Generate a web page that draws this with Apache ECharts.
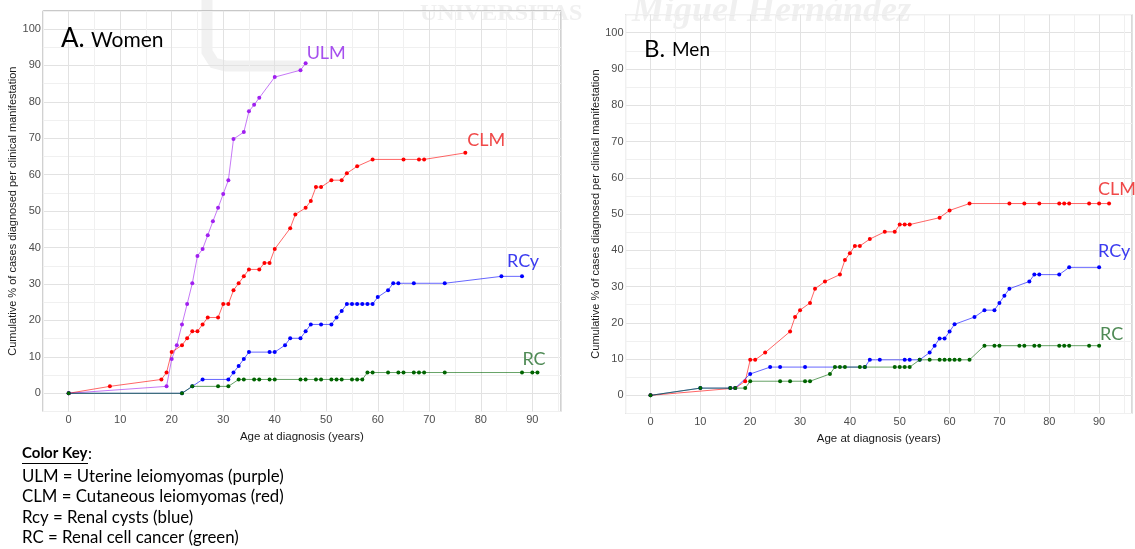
<!DOCTYPE html>
<html>
<head>
<meta charset="utf-8">
<script src="https://cdn.jsdelivr.net/npm/echarts@6/dist/echarts.min.js"></script>
<style>
html, body { margin: 0; padding: 0; background: #fff; }
#main { width: 1135px; height: 549px; }
</style>
</head>
<body>
<div id="main"></div>
<script>
// A. Women: [age, cumulative %]
const ulmWomen = [[0,0],[19,1.9],[20,9.4],[21,13.2],[22,18.9],[23,24.5],[24,30.2],[25,37.7],[26,39.6],[27,43.4],[28,47.2],[29,50.9],[30,54.7],[31,58.5],[32,69.8],[34,71.7],[35,77.4],[36,79.2],[37,81.1],[40,86.8],[45,88.7],[46,90.6]]
const clmWomen = [[0,0],[8,1.9],[18,3.8],[19,5.7],[20,11.3],[22,13.2],[23,15.1],[24,17],[25,17],[26,18.9],[27,20.8],[29,20.8],[30,24.5],[31,24.5],[32,28.3],[33,30.2],[34,32.1],[35,34],[37,34],[38,35.8],[39,35.8],[40,39.6],[43,45.3],[44,49.1],[46,50.9],[47,52.8],[48,56.6],[49,56.6],[51,58.5],[53,58.5],[54,60.4],[56,62.3],[59,64.2],[65,64.2],[68,64.2],[69,64.2],[77,66]]
const rcyWomen = [[0,0],[22,0],[24,1.9],[26,3.8],[31,3.8],[32,5.7],[33,7.5],[34,9.4],[35,11.3],[39,11.3],[40,11.3],[42,13.2],[43,15.1],[45,15.1],[46,17],[47,18.9],[49,18.9],[51,18.9],[52,20.8],[53,22.6],[54,24.5],[55,24.5],[56,24.5],[57,24.5],[58,24.5],[59,24.5],[60,26.4],[62,28.3],[63,30.2],[64,30.2],[67,30.2],[73,30.2],[84,32.1],[88,32.1]]
const rcWomen = [[0,0],[22,0],[24,1.9],[29,1.9],[31,1.9],[33,3.8],[34,3.8],[36,3.8],[37,3.8],[39,3.8],[40,3.8],[45,3.8],[46,3.8],[48,3.8],[49,3.8],[51,3.8],[52,3.8],[53,3.8],[55,3.8],[56,3.8],[57,3.8],[58,5.7],[59,5.7],[62,5.7],[64,5.7],[65,5.7],[67,5.7],[68,5.7],[69,5.7],[73,5.7],[88,5.7],[90,5.7],[91,5.7]]

// B. Men
const clmMen = [[0,0],[17,2],[19,3.9],[20,9.8],[21,9.8],[23,11.8],[28,17.6],[29,21.6],[30,23.5],[32,25.5],[33,29.4],[35,31.4],[38,33.3],[39,37.3],[40,39.2],[41,41.2],[42,41.2],[44,43.1],[47,45.1],[49,45.1],[50,47.1],[51,47.1],[52,47.1],[58,49],[60,51],[64,52.9],[72,52.9],[75,52.9],[78,52.9],[82,52.9],[83,52.9],[84,52.9],[88,52.9],[90,52.9],[92,52.9]]
const rcyMen = [[0,0],[10,2],[16,2],[17,2],[20,5.9],[24,7.8],[26,7.8],[31,7.8],[43,7.8],[44,9.8],[46,9.8],[51,9.8],[52,9.8],[54,9.8],[56,11.8],[57,13.7],[58,15.7],[59,15.7],[60,17.6],[61,19.6],[65,21.6],[67,23.5],[69,23.5],[70,25.5],[71,27.5],[72,29.4],[76,31.4],[77,33.3],[78,33.3],[82,33.3],[84,35.3],[90,35.3]]
const rcMen = [[0,0],[10,2],[16,2],[17,2],[19,2],[20,3.9],[26,3.9],[28,3.9],[31,3.9],[32,3.9],[36,5.9],[37,7.8],[38,7.8],[39,7.8],[42,7.8],[43,7.8],[49,7.8],[50,7.8],[51,7.8],[52,7.8],[54,9.8],[56,9.8],[58,9.8],[59,9.8],[60,9.8],[61,9.8],[62,9.8],[64,9.8],[67,13.7],[69,13.7],[70,13.7],[74,13.7],[75,13.7],[77,13.7],[78,13.7],[82,13.7],[83,13.7],[84,13.7],[88,13.7],[90,13.7]]

const xTicks = [0, 10, 20, 30, 40, 50, 60, 70, 80, 90]
const yTicks = [0, 10, 20, 30, 40, 50, 60, 70, 80, 90, 100]
const colorKey = [
  'ULM = Uterine leiomyomas (purple)',
  'CLM = Cutaneous leiomyomas (red)',
  'Rcy = Renal cysts (blue)',
  'RC = Renal cell cancer (green)',
]

const axisFont = '"Liberation Sans", Arial, sans-serif'
const noteFont = 'Lato, "Open Sans", sans-serif'
const yTitle = 'Cumulative % of cases diagnosed per clinical manifestation'

const chart = echarts.init(document.getElementById('main'))

const xAxis = (gridIndex, max) => ({
  type: 'value',
  gridIndex,
  min: -5,
  max,
  interval: 5,
  axisLine: { show: false },
  axisTick: { show: false },
  axisLabel: {
    color: '#4d4d4d',
    fontSize: 11,
    fontFamily: axisFont,
    margin: 3,
    formatter: v => (xTicks.includes(v) ? String(v) : ''),
  },
  splitLine: { lineStyle: { color: ['#f0f0f0', '#e2e2e2'], width: 1 } },
  name: 'Age at diagnosis (years)',
  nameLocation: 'middle',
  nameGap: 16,
  nameTextStyle: { color: '#1a1a1a', fontSize: 11.5, fontFamily: axisFont },
})

const yAxis = gridIndex => ({
  type: 'value',
  gridIndex,
  min: -5,
  max: 105,
  interval: 5,
  axisLine: { show: false },
  axisTick: { show: false },
  axisLabel: {
    color: '#4d4d4d',
    fontSize: 11,
    fontFamily: axisFont,
    margin: 2,
    formatter: v => (yTicks.includes(v) ? String(v) : ''),
  },
  splitLine: { lineStyle: { color: ['#f0f0f0', '#e2e2e2'], width: 1 } },
  name: yTitle,
  nameLocation: 'middle',
  nameGap: 21,
  nameTextStyle: { color: '#1a1a1a', fontSize: 11, fontFamily: axisFont },
})

const line = (name, data, idx, color, labelColor, offset) => ({
  name,
  type: 'line',
  data,
  xAxisIndex: idx,
  yAxisIndex: idx,
  symbol: 'circle',
  symbolSize: 4,
  itemStyle: { color },
  lineStyle: { color, width: 1, opacity: 0.6 },
  emphasis: { disabled: true },
  endLabel: {
    show: true,
    formatter: name,
    color: labelColor,
    fontSize: 18,
    fontFamily: noteFont,
    distance: 0,
    offset,
  },
})

const txt = (left, top, text, font) => ({
  type: 'text', left, top, z: 100,
  style: { text, fill: '#000', font },
})

const keyLines = colorKey.map((t, i) => txt(22, 468 + i * 20.5, t, '16.8px ' + noteFont))

chart.setOption({
  animation: false,
  backgroundColor: '#fff',
  grid: [
    { left: 42.9, top: 10.8, width: 518, height: 400.7, show: true, borderColor: '#b3b3b3', borderWidth: 1 },
    { left: 625.6, top: 14.6, width: 515.5, height: 398.9, show: true, borderColor: '#b3b3b3', borderWidth: 1 },
  ],
  xAxis: [xAxis(0, 95.55), xAxis(1, 96.6)],
  yAxis: [yAxis(0), yAxis(1)],
  series: [
    line('ULM', ulmWomen, 0, '#a020f0', '#a650ee', [1, -10]),
    line('CLM', clmWomen, 0, '#ff0000', '#f04848', [2, -13]),
    line('RCy', rcyWomen, 0, '#0000ff', '#3c3cf0', [-15, -15]),
    line('RC', rcWomen, 0, '#006400', '#4f8a55', [-15, -13]),
    line('CLM', clmMen, 1, '#ff0000', '#f04848', [-11, -14]),
    line('RCy', rcyMen, 1, '#0000ff', '#3c3cf0', [-1, -16]),
    line('RC', rcMen, 1, '#006400', '#4f8a55', [1, -11]),
  ],
  graphic: [
    // faint watermark of the source page
    { type: 'text', left: 420, top: 2, z: -1, style: { text: 'UNIVERSITAS', fill: '#f0f0f0', font: 'bold 24px "Liberation Serif", serif' } },
    { type: 'text', left: 632, top: -6, z: -1, style: { text: 'Miguel Hernández', fill: '#f0f0f0', font: 'italic bold 36px "Liberation Serif", serif' } },
    { type: 'polyline', z: -1, shape: { points: [[207, 0], [207, 52], [214, 63], [226, 66], [300, 66]] }, style: { stroke: '#f1f1f1', lineWidth: 11, fill: null } },
    // panel titles
    txt(61, 26, 'A.', '26px ' + noteFont),
    txt(91, 30, 'Women', '21px ' + noteFont),
    txt(644, 37, 'B.', '24px ' + noteFont),
    txt(672, 40, 'Men', '19px ' + noteFont),
    // colour key
    txt(22, 446, 'Color Key', 'bold 15px ' + noteFont),
    txt(88, 446, ':', '16px ' + noteFont),
    { type: 'line', z: 100, shape: { x1: 22, y1: 463.5, x2: 88, y2: 463.5 }, style: { stroke: '#000', lineWidth: 1 } },
    ...keyLines,
  ],
})
</script>
</body>
</html>
